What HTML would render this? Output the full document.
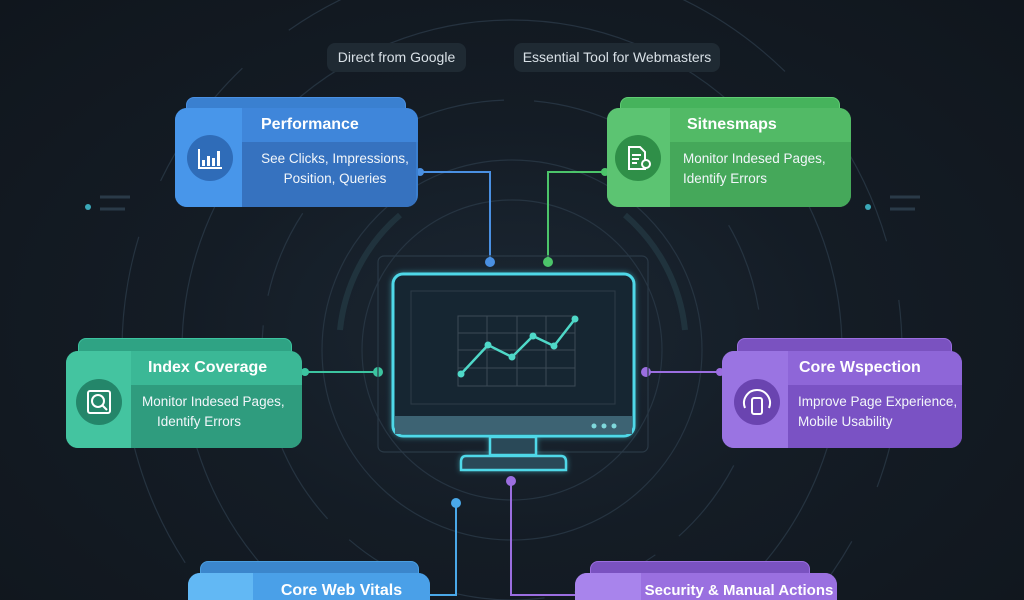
<!DOCTYPE html>
<html style="width:1024px;height:600px;overflow:hidden"><head><meta charset="utf-8"><style>
body{margin:0;width:1024px;height:600px;overflow:hidden;background:radial-gradient(ellipse at 512px 330px,#1b2733 0%,#141c25 45%,#10161d 100%);font-family:"Liberation Sans",sans-serif;position:relative}
.pill{position:absolute;top:43px;height:29px;border-radius:8px;background:#1f2a33;color:#d8e0e6;font-size:14px;line-height:29px;text-align:center;white-space:nowrap}
.tab{position:absolute;height:22px;border-radius:8px 8px 0 0}
.body{position:absolute;border-radius:12px;overflow:hidden}
.left{position:absolute;left:0;top:0;bottom:0}
.hdr{position:absolute;right:0;top:0;height:34px;color:#fff;font-weight:bold;font-size:16px;line-height:34px;white-space:nowrap}
.txt{position:absolute;right:0;top:34px;bottom:0;color:#f2f6fa;font-size:14px;line-height:20px;padding-top:7px;white-space:nowrap}
.ic{position:absolute;width:46px;height:46px;border-radius:50%}
.ic svg{position:absolute;left:0;top:0}
</style></head><body>
<svg width="1024" height="600" style="position:absolute;left:0;top:0">
<g fill="none" stroke="#2a3947" stroke-width="1.2" opacity="0.8">
<circle cx="512" cy="350" r="150"/><circle cx="512" cy="350" r="190"/><circle cx="512" cy="350" r="250" stroke-dasharray="90 30"/><circle cx="512" cy="350" r="330"/><circle cx="512" cy="350" r="390" stroke-dasharray="140 60"/>
</g>
<g fill="none" stroke="#26404a" stroke-width="6" opacity="0.6"><path d="M340 330 A175 175 0 0 1 400 215" /><path d="M685 330 A175 175 0 0 0 625 215"/></g>
<g stroke="#2a3a48" stroke-width="3"><line x1="100" y1="197" x2="130" y2="197"/><line x1="100" y1="209" x2="125" y2="209"/><line x1="890" y1="197" x2="920" y2="197"/><line x1="890" y1="209" x2="915" y2="209"/></g>
<g fill="#3aa8b8"><circle cx="88" cy="207" r="3"/><circle cx="868" cy="207" r="3"/></g>
<g fill="none" stroke-width="2">
<path d="M420 172 H490 V262" stroke="#4a90e2"/>
<path d="M605 172 H548 V262" stroke="#4cc46a"/>
<path d="M305 372 H378" stroke="#3cc4a0"/>
<path d="M720 372 H646" stroke="#9b6ee0"/>
<path d="M511 481 V595 H580" stroke="#9b6ee0"/>
<path d="M456 503 V595 H430" stroke="#4aa8e8"/>
</g>
<g><circle cx="420" cy="172" r="4" fill="#4a90e2"/><circle cx="490" cy="262" r="5" fill="#4a90e2"/>
<circle cx="605" cy="172" r="4" fill="#4cc46a"/><circle cx="548" cy="262" r="5" fill="#4cc46a"/>
<circle cx="305" cy="372" r="4" fill="#3cc4a0"/><circle cx="378" cy="372" r="5" fill="#3cc4a0"/>
<circle cx="720" cy="372" r="4" fill="#9b6ee0"/><circle cx="646" cy="372" r="5" fill="#9b6ee0"/>
<circle cx="511" cy="481" r="5" fill="#9b6ee0"/><circle cx="456" cy="503" r="5" fill="#4aa8e8"/></g>
<defs><filter id="gl" x="-20%" y="-20%" width="140%" height="140%"><feGaussianBlur stdDeviation="3" in="SourceAlpha" result="b"/><feFlood flood-color="#4fd8e8" flood-opacity="0.5"/><feComposite in2="b" operator="in"/><feMerge><feMergeNode/><feMergeNode in="SourceGraphic"/></feMerge></filter></defs>
<rect x="378" y="256" width="270" height="196" rx="6" fill="none" stroke="#2a3946" stroke-width="1.2"/>
<g filter="url(#gl)">
<rect x="393" y="274" width="241" height="162" rx="10" fill="#182531" stroke="#4fd8e8" stroke-width="3"/>
<rect x="395" y="416" width="237" height="18" fill="#3c6373" />
<rect x="490" y="437" width="46" height="18" fill="#2c4a58" stroke="#4fd8e8" stroke-width="2.5"/>
<path d="M466 456 H561 Q566 456 566 462 V470 H461 V462 Q461 456 466 456Z" fill="#2c4a58" stroke="#4fd8e8" stroke-width="2.5"/>
</g>
<rect x="411" y="291" width="204" height="113" fill="none" stroke="#2d3c48" stroke-width="1"/>
<g stroke="#3c4a56" stroke-width="1"><rect x="458" y="316" width="117" height="70" fill="none"/><line x1="487" y1="316" x2="487" y2="386"/><line x1="517" y1="316" x2="517" y2="386"/><line x1="546" y1="316" x2="546" y2="386"/><line x1="458" y1="333" x2="575" y2="333"/><line x1="458" y1="350" x2="575" y2="350"/><line x1="458" y1="368" x2="575" y2="368"/></g>
<polyline points="461,374 488,345 512,357 533,336 554,346 575,319" fill="none" stroke="#4fd8c8" stroke-width="2.5"/>
<g fill="#4fd8c8"><circle cx="461" cy="374" r="3.5"/><circle cx="488" cy="345" r="3.5"/><circle cx="512" cy="357" r="3.5"/><circle cx="533" cy="336" r="3.5"/><circle cx="554" cy="346" r="3.5"/><circle cx="575" cy="319" r="3.5"/></g>
<g fill="#7fd8dc"><circle cx="594" cy="426" r="2.5"/><circle cx="604" cy="426" r="2.5"/><circle cx="614" cy="426" r="2.5"/></g>
</svg>
<div class="pill" style="left:327px;width:139px">Direct from Google</div>
<div class="pill" style="left:514px;width:206px">Essential Tool for Webmasters</div>

<div class="tab" style="left:186px;top:97px;width:218px;background:#3a80d0;border:1px solid #4a90e2"></div>
<div class="body" style="left:175px;top:108px;width:243px;height:99px;background:#3b7fd0">
<div class="left" style="width:67px;background:#4896ea"></div>
<div class="hdr" style="left:67px;background:#3f86da;padding-left:19px">Performance</div>
<div class="txt" style="left:67px;background:#3672bf;padding-left:12px;text-align:center;width:162px;font-size:13.5px">See Clicks, Impressions,<br>Position, Queries</div>
<div class="ic" style="left:12px;top:27px;background:#2f6cb8"><svg width="46" height="46"><g fill="#fff"><rect x="15" y="25" width="3" height="6"/><rect x="20" y="21" width="3" height="10"/><rect x="25" y="23" width="3" height="8"/><rect x="30" y="16" width="3" height="15"/></g><path d="M12 14 V33 H35" fill="none" stroke="#fff" stroke-width="2"/></svg></div>
</div>

<div class="tab" style="left:620px;top:97px;width:218px;background:#46b35c;border:1px solid #60cc74"></div>
<div class="body" style="left:607px;top:108px;width:244px;height:99px;background:#4db462">
<div class="left" style="width:63px;background:#5cc472"></div>
<div class="hdr" style="left:63px;background:#52ba66;padding-left:17px">Sitnesmaps</div>
<div class="txt" style="left:63px;background:#45a85a;padding-left:13px;font-size:13.5px">Monitor Indesed Pages,<br>Identify Errors</div>
<div class="ic" style="left:8px;top:27px;background:#2f8f48"><svg width="46" height="46" fill="none" stroke="#fff" stroke-width="2"><path d="M14 12 H25 L30 17 V34 H14Z"/><path d="M17 20 H26 M17 24 H24 M17 28 H22"/><circle cx="31" cy="29" r="4" fill="#2f8f48"/></svg></div>
</div>

<div class="tab" style="left:78px;top:338px;width:212px;background:#2fa384;border:1px solid #3cc4a0"></div>
<div class="body" style="left:66px;top:351px;width:236px;height:97px;background:#35ad8c">
<div class="left" style="width:65px;background:#44c4a0"></div>
<div class="hdr" style="left:65px;background:#3bb896;padding-left:17px">Index Coverage</div>
<div class="txt" style="left:65px;background:#2f9c7e;padding-left:11px;font-size:13.5px">Monitor Indesed Pages,<br>&nbsp;&nbsp;&nbsp;&nbsp;Identify Errors</div>
<div class="ic" style="left:10px;top:28px;background:#24866a"><svg width="46" height="46" fill="none" stroke="#fff" stroke-width="2"><rect x="12" y="12" width="22" height="22" rx="2"/><circle cx="22" cy="22" r="6"/><path d="M26 26 L31 31"/></svg></div>
</div>

<div class="tab" style="left:737px;top:338px;width:213px;background:#7a52c0;border:1px solid #9b6ee0"></div>
<div class="body" style="left:722px;top:351px;width:240px;height:97px;background:#8a62d4">
<div class="left" style="width:66px;background:#9a74e2"></div>
<div class="hdr" style="left:66px;background:#8e66d8;padding-left:11px">Core Wspection</div>
<div class="txt" style="left:66px;background:#7a52c4;padding-left:10px;font-size:13.5px">Improve Page Experience,<br>Mobile Usability</div>
<div class="ic" style="left:12px;top:28px;background:#6a44b0"><svg width="46" height="46" fill="none" stroke="#fff" stroke-width="2"><path d="M11 29 A13 13 0 1 1 35 29"/><rect x="18" y="19" width="10" height="16" rx="2"/></svg></div>
</div>

<div class="tab" style="left:200px;top:561px;width:217px;background:#3b86cc;border:1px solid #4a9ee0"></div>
<div class="body" style="left:188px;top:573px;width:242px;height:27px;border-radius:12px 12px 0 0;background:#4aa0e8">
<div class="left" style="width:65px;background:#62b8f4"></div>
<div class="hdr" style="left:65px;background:#4aa0e8;text-align:center;line-height:36px;height:27px;overflow:hidden">Core Web Vitals</div>
</div>

<div class="tab" style="left:590px;top:561px;width:218px;background:#7a52c0;border:1px solid #9b6ee0"></div>
<div class="body" style="left:575px;top:573px;width:262px;height:27px;border-radius:12px 12px 0 0;background:#9a70e0">
<div class="left" style="width:66px;background:#a884ec"></div>
<div class="hdr" style="left:66px;background:#9a70e0;text-align:center;line-height:36px;font-size:15px;height:27px;overflow:hidden">Security &amp; Manual Actions</div>
</div>
</body></html>
